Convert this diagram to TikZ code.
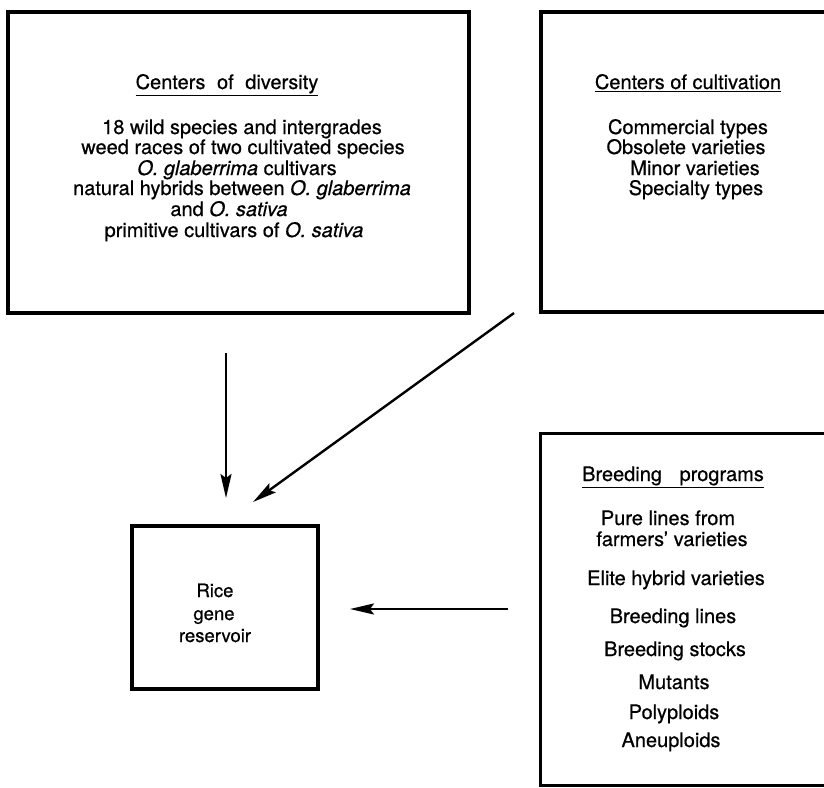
\documentclass[tikz,border=0pt]{standalone}
\usepackage{fontspec}
\setmainfont[FakeBold=0.6]{TeX Gyre Heros}
\usetikzlibrary{arrows.meta}
\begin{document}
\begin{tikzpicture}[x=1pt,y=-1pt,
  box/.style={draw, line width=#1, rectangle, inner sep=0pt},
  box/.default=4pt,
  txt/.style={font=\fontsize{20}{20}\selectfont, anchor=base, inner sep=0pt},
  rtxt/.style={font=\fontsize{18.5}{18.5}\selectfont, anchor=base, inner sep=0pt},
  arr/.style={line width=2.4pt, -{Stealth[length=24pt,width=11pt,inset=4pt]}}
]
\useasboundingbox (0,0) rectangle (824,787);
% boxes
\node[box=4pt, minimum width=461pt, minimum height=301pt] (div) at (238.5,162.5) {};
\node[box=4pt, minimum width=287pt, minimum height=300pt] (cult) at (684.5,162) {};
\node[box=3pt, minimum width=288pt, minimum height=352pt] (breed) at (684,609) {};
\node[box=3.5pt, minimum width=186pt, minimum height=163pt] (rice) at (225,607.5) {};
% diversity text
\node[txt] (d0) at (227,89) {\underline{Centers\hspace{0.3em} of\hspace{0.3em} diversity}};
\node[txt] (d1) at (242,134) {18 wild species and intergrades};
\node[txt] (d2) at (243,154) {weed races of two cultivated species};
\node[txt] (d3) at (237,175) {\textit{O. glaberrima} cultivars};
\node[txt] (d4) at (242,195) {natural hybrids between \textit{O. glaberrima}};
\node[txt] (d5) at (229,216) {and \textit{O. sativa}};
\node[txt] (d6) at (234,237) {primitive cultivars of \textit{O. sativa}};
% cultivation text
\node[txt] (c0) at (688,89) {\underline{Centers of cultivation}};
\node[txt] (c1) at (688,134) {Commercial types};
\node[txt] (c2) at (686,154) {Obsolete varieties};
\node[txt] (c3) at (695,175) {Minor varieties};
\node[txt] (c4) at (696,195) {Specialty types};
% breeding text
\node[txt] (b0) at (673,481) {\underline{Breeding\hspace{0.6em} programs}};
\node[txt] (b1) at (668,525) {Pure lines from};
\node[txt] (b2) at (672,546) {farmers' varieties};
\node[txt] (b3) at (676,585) {Elite hybrid varieties};
\node[txt] (b4) at (673,623) {Breeding lines};
\node[txt] (b5) at (675,656) {Breeding stocks};
\node[txt] (b6) at (674,689) {Mutants};
\node[txt] (b7) at (674,719) {Polyploids};
\node[txt] (b8) at (671,747) {Aneuploids};
% rice text
\node[rtxt] (r1) at (215,597) {Rice};
\node[rtxt] (r2) at (214,620) {gene};
\node[rtxt] (r3) at (215,642) {reservoir};
% arrow end points
\coordinate (a1s) at (226,353);
\coordinate (a1e) at (226,498);
\coordinate (a2s) at (514,313);
\coordinate (a2e) at (253,502);
\coordinate (a3s) at (508,609);
\coordinate (a3e) at (350,609);
\draw[arr] (a1s) -- (a1e);
\draw[arr] (a2s) -- (a2e);
\draw[arr] (a3s) -- (a3e);
\end{tikzpicture}
\end{document}
